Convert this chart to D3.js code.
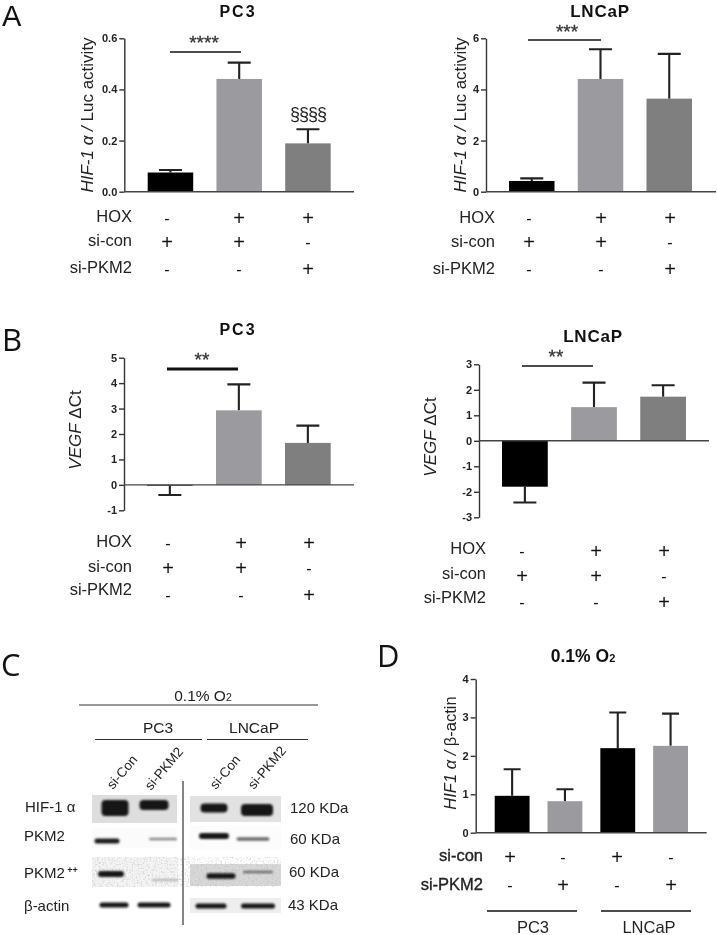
<!DOCTYPE html>
<html><head><meta charset="utf-8">
<script src="https://cdn.jsdelivr.net/npm/d3@7"></script>
<style>
html,body{margin:0;padding:0;background:#fff}
svg{display:block;filter:blur(0.35px)}
text{font-family:"Liberation Sans",Arial,sans-serif;fill:#222}
</style></head><body>
<script>
// ---------- data ----------
const conditions = ["a","b","c"];
const conditionsD = ["pc3Con","pc3Pkm","lncCon","lncPkm"];
const barColors = ["#000000","#9b9b9f","#7f7f7f"];
const barColorsD = ["#000000","#9b9b9f","#000000","#9b9b9f"];

const aPc3Values = [0.075,0.441,0.189];
const aPc3Err    = [0.085,0.505,0.244];
const aLncValues = [0.42,4.41,3.64];
const aLncErr    = [0.52,5.57,5.39];
const bPc3Values = [-0.03,2.93,1.65];
const bPc3Err    = [-0.40,3.95,2.33];
const bLncValues = [-1.80,1.32,1.73];
const bLncErr    = [-2.42,2.28,2.18];
const dValues    = [0.96,0.82,2.20,2.26];
const dErr       = [1.65,1.13,3.13,3.10];

const aPc3Ticks = [0,0.2,0.4,0.6];
const aLncTicks = [0,2,4,6];
const bPc3Ticks = [-1,0,1,2,3,4,5];
const bLncTicks = [-3,-2,-1,0,1,2,3];
const dTicks    = [0,1,2,3,4];

const rowNames = ["HOX","si-con","si-PKM2"];
const rowSigns = [["-","+","+"],["+","+","-"],["-","-","+"]];
const rowNamesD = ["si-con","si-PKM2"];
const rowSignsD = [["+","-","+","-"],["-","+","-","+"]];

const blotLanes = ["si-Con","si-PKM2","si-Con","si-PKM2"];
const blotRows  = ["HIF-1 α","PKM2","PKM2 ++","β-actin"];
const blotSizes = ["120 KDa","60 KDa","60 KDa","43 KDa"];
// band strength by row then lane, read by eye (1 = darkest)
const bandDarkness  = [[1,1,1,1],[.95,.4,1,.55],[1,.18,1,.55],[1,1,1,1]];
const bandThickness = [[16,10,9,12],[5,2.5,6,3.5],[6,2,5.5,2.5],[5,5,5,5]];
const bandWidth     = [[27,29,27,32],[25,28,30,33],[26,27,29,30],[29,33,31,34]];

// ---------- page ----------
const svg = d3.select("body").append("svg").attr("width",717).attr("height",935);
const defs = svg.append("defs");
defs.append("filter").attr("id","soft").attr("x","-20%").attr("y","-60%").attr("width","140%").attr("height","220%")
  .append("feGaussianBlur").attr("stdDeviation",0.9);
const sp = defs.append("filter").attr("id","speckle").attr("x","0").attr("y","0").attr("width","100%").attr("height","100%");
sp.append("feTurbulence").attr("type","fractalNoise").attr("baseFrequency",0.55).attr("numOctaves",2).attr("seed",4);
sp.append("feColorMatrix").attr("values","0 0 0 0 .45  0 0 0 0 .45  0 0 0 0 .45  1.6 0 0 0 -.78");

function letter(t,x,y,fam,size){
  svg.append("text").attr("x",x).attr("y",y).text(t)
    .style("font-family",fam||"'Open Sans'").style("font-size",(size||31)+"px").style("fill","#111");
}
function title(t,x,y,size,ls){
  svg.append("text").attr("x",x).attr("y",y).attr("text-anchor","middle").text(t)
    .style("font-weight","bold").style("font-size",size+"px").style("letter-spacing",(ls||0)+"px").style("fill","#111");
}
function yLabel(parts,x,y,size){
  const t = svg.append("text").attr("transform",`translate(${x},${y}) rotate(-90)`)
    .attr("text-anchor","middle").style("font-size",size+"px");
  parts.forEach(p=>t.append("tspan").text(p[0]).style("font-style",p[1]?"italic":"normal"));
}
const hyphenInt = d=>String(d);
function barPanel(o){
  const x = d3.scaleBand().domain(o.cats).range([o.left,o.right]).paddingInner(o.padding).paddingOuter(0);
  const y = d3.scaleLinear().domain(o.domain).range([o.bottom,o.top]);
  const g = svg.append("g");
  const ax = g.append("g").attr("transform",`translate(${o.axisX},0)`)
    .call(d3.axisLeft(y).tickValues(o.ticks).tickSize(5).tickPadding(2).tickFormat(o.fmt||hyphenInt).tickSizeOuter(0));
  ax.selectAll("path,line").attr("stroke","#333").attr("stroke-width",1.4);
  ax.selectAll("text").style("font-size","11px").style("font-weight","bold").style("font-family","'Liberation Sans'").attr("fill","#222");
  g.selectAll(".err").data(o.cats).join("path")
    .attr("d",(c,i)=>{const m=x(c)+x.bandwidth()/2,w=o.cap;
      return `M${m},${y(o.values[i])}V${y(o.errs[i])}M${m-w},${y(o.errs[i])}H${m+w}`;})
    .attr("stroke","#222").attr("stroke-width",2.1).attr("fill","none");
  g.selectAll(".bar").data(o.cats).join("rect")
    .attr("x",c=>x(c)).attr("width",x.bandwidth())
    .attr("y",(c,i)=>Math.min(y(0),y(o.values[i])))
    .attr("height",(c,i)=>Math.abs(y(0)-y(o.values[i])))
    .attr("fill",(c,i)=>o.colors[i]);
  g.append("line").attr("x1",o.axisX).attr("x2",o.axisEnd).attr("y1",y(0)).attr("y2",y(0))
    .attr("stroke","#444").attr("stroke-width",1.4);
}
function signTable(names,signs,rightX,baselines,cols,centers,opts){
  opts=opts||{};
  names.forEach((n,r)=>{
    const t = svg.append("text").attr("x",rightX).attr("y",baselines[r]).attr("text-anchor","end").text(n)
      .style("font-size",(opts.size||16.5)+"px");
    if(opts.heavy) t.style("stroke","#222").style("stroke-width",".35px");
    signs[r].forEach((s,c)=>{
      svg.append("text").attr("x",cols[c]).attr("y",centers[r]+(s==="+"?7:5.5)).attr("text-anchor","middle").text(s)
        .style("font-size",s==="+"?"20px":"16px").style("fill","#111");
    });
  });
}
function sig(x1,x2,y,w,stars,sx,starCenterY){
  svg.append("line").attr("x1",x1).attr("x2",x2).attr("y1",y).attr("y2",y).attr("stroke","#111").attr("stroke-width",w);
  svg.append("text").attr("x",sx).attr("y",starCenterY+10).attr("text-anchor","middle").text(stars)
    .style("font-size","19px").style("fill","#333").style("stroke","#333").style("stroke-width",".3px");
}
const hifLabel = [["HIF-1 ",1],["α",1],[" /",1],[" Luc activity",0]];
const vegfLabel = [["VEGF",1],[" ΔCt",0]];

// ---------- A ----------
letter("A",2,26,"'Liberation Sans'",29);
title("PC3",238,17,16,2);
yLabel(hifLabel,93,115,17);
barPanel({cats:conditions,left:147.7,right:330.7,padding:.338,domain:[0,.6],top:38.3,bottom:191.7,axisX:124.3,axisEnd:354,
  ticks:aPc3Ticks,values:aPc3Values,errs:aPc3Err,colors:barColors,cap:11.5,fmt:d3.format(".1f")});
sig(170,241,52,1.5,"****",204,39);
svg.append("text").attr("x",308).attr("y",120).attr("text-anchor","middle").text("§§§§").style("font-size","18px").style("letter-spacing","-1px").style("fill","#222");
signTable(rowNames,rowSigns,132,[222,246,273],[167,239,308],[218,242,269]);

title("LNCaP",600,17,17,.8);
yLabel(hifLabel,466,115,17);
barPanel({cats:conditions,left:509,right:692,padding:.338,domain:[0,6],top:38.3,bottom:191.7,axisX:486,axisEnd:716,
  ticks:aLncTicks,values:aLncValues,errs:aLncErr,colors:barColors,cap:11.5});
sig(528,601,40,1.5,"***",567,28);
signTable(rowNames,rowSigns,495,[223,247,274],[529,601,670],[218,242,269]);

// ---------- B ----------
letter("B",2,351);
title("PC3",238,335,16,2);
yLabel(vegfLabel,81,430,17);
barPanel({cats:conditions,left:147,right:330.7,padding:.338,domain:[-1,5],top:357.7,bottom:510.3,axisX:124,axisEnd:354,
  ticks:bPc3Ticks,values:bPc3Values,errs:bPc3Err,colors:barColors,cap:11.5});
sig(167,238,369,3,"**",202,356);
signTable(rowNames,rowSigns,132,[547,572,595],[168,241,309],[543,568,595]);

title("LNCaP",593,342,17,.8);
yLabel(vegfLabel,436,437,17);
barPanel({cats:conditions,left:502,right:686,padding:.338,domain:[-3,3],top:364.3,bottom:517.3,axisX:479,axisEnd:709,
  ticks:bLncTicks,values:bLncValues,errs:bLncErr,colors:barColors,cap:11.5});
sig(522,593,366,1.5,"**",556,353);
signTable(rowNames,rowSigns,486,[554,579,603],[522,596,664],[551,576,602]);

// ---------- C ----------
letter("C",1,676);
function cText(t,x,y,size,anchor){
  return svg.append("text").attr("x",x).attr("y",y).attr("text-anchor",anchor||"middle").text(t).style("font-size",size+"px");
}
function rule(x1,x2,y,w,c){svg.append("line").attr("x1",x1).attr("x2",x2).attr("y1",y).attr("y2",y).attr("stroke",c||"#333").attr("stroke-width",w||1);}
const o2 = cText("0.1% O",203,701,15.5);
o2.append("tspan").text("2").style("font-size","10.5px");
rule(79,318,705,1.2);
cText("PC3",158,733,15.5); cText("LNCaP",254,733,15.5);
rule(95,202,739.5,1.2); rule(207,308,739.5,1.2);

const rowY = d3.scaleOrdinal().domain(blotRows).range([807,838,875,905]);
const laneNudge = [[0,-8,-3,0],[-8,1,-3,-4],[-4,3,4,1],[-1,-8,-6,1]];
const rowNudge = [[1,-2,1,3],[3,1,-2,1],[-1,5,1,-3],[0,0,1,1]];
const laneBase = [115,162,217,257];
const backdrops = [
  {row:0,x:[92,177],y:[795,823],fill:"#dedede"},
  {row:0,x:[190,281],y:[796,822],fill:"#e2e2e2"},
  {row:1,x:[92,177],y:[828,848],fill:"#fbfbfb"},
  {row:1,x:[190,281],y:[826,850],fill:"#fcfcfc"},
  {row:2,x:[92,178],y:[857,887],fill:"#f4f4f4"},
  {row:2,x:[190,281],y:[864,886],fill:"#d8d8d8"},
  {row:3,x:[190,281],y:[898,913],fill:"#eeeeee"}
];
const bg = svg.append("g");
bg.selectAll("rect.b").data(backdrops).join("rect").attr("class","b")
  .attr("x",d=>d.x[0]).attr("width",d=>d.x[1]-d.x[0]).attr("y",d=>d.y[0]).attr("height",d=>d.y[1]-d.y[0]).attr("fill",d=>d.fill);
const noise = svg.append("svg").attr("x",92).attr("y",857).attr("width",189).attr("height",30);
noise.append("rect").attr("width",189).attr("height",30).attr("filter","url(#speckle)");
const bands = svg.append("g").attr("filter","url(#soft)");
blotRows.forEach((name,r)=>{
  blotLanes.forEach((lane,l)=>{
    const th = bandThickness[r][l], w = bandWidth[r][l], k = bandDarkness[r][l];
    bands.append("rect").attr("x",laneBase[l]+laneNudge[r][l]-w/2).attr("width",w)
      .attr("y",rowY(name)+rowNudge[r][l]-th/2).attr("height",th).attr("rx",Math.min(th/2,4))
      .attr("fill",d3.interpolateRgb("#d4d4d4","#141414")(k));
  });
});
svg.append("line").attr("x1",183).attr("x2",183).attr("y1",781).attr("y2",925).attr("stroke","#333").attr("stroke-width",1.2);
[[113,790],[151,791],[216,790],[254,790]].forEach((p,i)=>{
  svg.append("text").attr("transform",`translate(${p[0]},${p[1]}) rotate(-50)`).text(blotLanes[i]).style("font-size","13.5px");
});
[812,841,878,911].forEach((y,i)=>{
  if(i===2){
    const t=cText("PKM2",24,y,15,"start");
    t.append("tspan").text(" ++").attr("dy",-5).style("font-size","9px").style("font-weight","bold");
  } else cText(blotRows[i],i===0?25:24,y,15,"start");
});
[[290,813],[290,844],[289,877],[288,910]].forEach((p,i)=>cText(blotSizes[i],p[0],p[1],15,"start"));

// ---------- D ----------
letter("D",377,667);
svg.append("text").attr("x",583).attr("y",662).attr("text-anchor","middle").style("font-weight","bold").style("font-size","17.5px").style("fill","#111")
  .text("0.1% O").append("tspan").text("2").style("font-size","11px");
yLabel([["HIF1 ",1],["α",1],[" /",1],[" β-actin",0]],456,753,16.5);
barPanel({cats:conditionsD,left:494.7,right:688,padding:.34,domain:[0,4],top:679,bottom:832.7,axisX:475.7,axisEnd:706.7,
  ticks:dTicks,values:dValues,errs:dErr,colors:barColorsD,cap:8.5});
signTable(rowNamesD,rowSignsD,483,[861,890],[510,563,617,671],[857,885],{size:16.5,heavy:true});
rule(487,577,911,1.5,"#111"); rule(601,691,911,1.5,"#111");
cText("PC3",533,933,16.5); cText("LNCaP",649,933,16.5);
</script>
</body></html>
